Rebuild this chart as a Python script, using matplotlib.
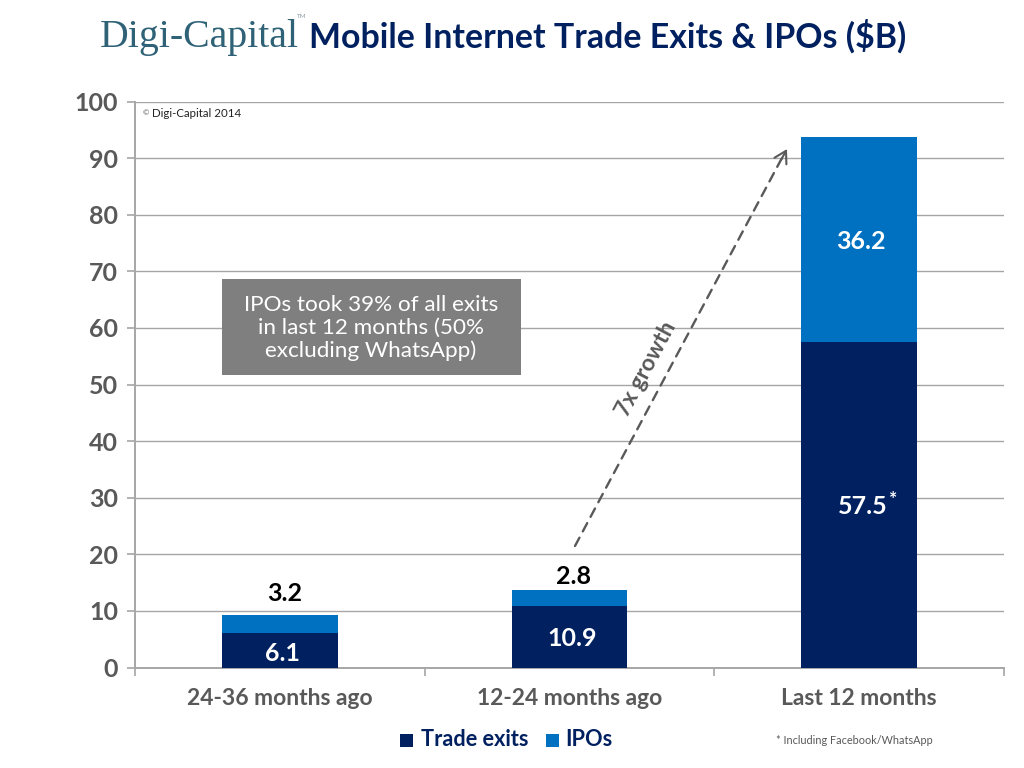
import matplotlib
matplotlib.use("Agg")
import matplotlib.pyplot as plt
from matplotlib.patches import Rectangle

categories = ["24-36 months ago", "12-24 months ago", "Last 12 months"]
trade_exits = [6.1, 10.9, 57.5]
ipos = [3.2, 2.8, 36.2]
yticks = [0, 10, 20, 30, 40, 50, 60, 70, 80, 90, 100]

NAVY = "#002060"
BLUE = "#0070C0"
GREY = "#595959"
W, H = 1024, 768
FONT = "Lato"

plt.rcParams["font.family"] = [FONT, "DejaVu Sans"]
fig = plt.figure(figsize=(W / 100, H / 100), dpi=100)
ax = fig.add_axes([135 / W, (H - 667.5) / H, (1004 - 135) / W, 566 / H])

def px(x, y):
    return (x / W, (H - y) / H)

x = range(len(categories))
ax.bar(x, trade_exits, width=0.4, color=NAVY, zorder=3)
ax.bar(x, ipos, width=0.4, bottom=trade_exits, color=BLUE, zorder=3)
ax.set_xlim(-0.5, 2.5)
ax.set_ylim(0, 100)
ax.set_yticks(yticks)
ax.set_yticklabels([str(t) for t in yticks], fontsize=18, fontweight="bold", color=GREY)
ax.set_xticks([-0.5, 0.5, 1.5, 2.5])
ax.set_xticklabels([])
ax.set_xticks(list(x), minor=True)
ax.set_xticklabels(categories, minor=True, fontsize=16.5, fontweight="bold", color=GREY)
ax.tick_params(axis="x", which="minor", length=0, pad=15)
ax.tick_params(axis="x", which="major", length=6, width=1.2, color="#A6A6A6")
ax.tick_params(axis="y", length=6, width=1.2, color="#A6A6A6", pad=6)
ax.grid(axis="y", color="#A6A6A6", lw=1.0, zorder=0)
ax.set_axisbelow(True)
for s in ("top", "right"):
    ax.spines[s].set_visible(False)
for s in ("left", "bottom"):
    ax.spines[s].set_color("#A6A6A6")
    ax.spines[s].set_linewidth(1.4)

# value labels
VS = 18
ax.text(0.01, trade_exits[0] / 2 - 0.6, "6.1", ha="center", va="center", fontsize=VS, fontweight="bold", color="white", zorder=5)
ax.text(1.01, trade_exits[1] / 2 - 0.3, "10.9", ha="center", va="center", fontsize=VS, fontweight="bold", color="white", zorder=5)
ax.text(2.012, trade_exits[2] / 2 - 0.3, "57.5", ha="center", va="center", fontsize=VS, fontweight="bold", color="white", zorder=5)
tx, ty = px(889, 499)
fig.text(tx, ty, "*", ha="left", va="center", fontsize=14, fontweight="bold", color="white", zorder=5)
ax.text(2.005, trade_exits[2] + ipos[2] / 2 - 0.3, "36.2", ha="center", va="center", fontsize=VS, fontweight="bold", color="white", zorder=5)
ax.text(0.015, 13.0, "3.2", ha="center", va="center", fontsize=VS, fontweight="bold", color="black", zorder=5)
ax.text(1.015, 16.1, "2.8", ha="center", va="center", fontsize=VS, fontweight="bold", color="black", zorder=5)

# title
lx, ly = px(100, 37)
fig.text(lx, ly, "Digi-Capital", fontsize=28.6, family="Liberation Serif", color="#2F6277", ha="left", va="center")
tx, ty = px(297, 17)
fig.text(tx, ty, "TM", fontsize=4.5, color="#8a9aa5", ha="left", va="center")
tx, ty = px(309, 36)
fig.text(tx, ty, "Mobile Internet Trade Exits & IPOs ($B)", fontsize=24.4, fontweight="bold", color=NAVY, ha="left", va="center")

# copyright
tx, ty = px(143, 113)
fig.text(tx, ty, "©", fontsize=5.5, color=GREY, ha="left", va="center")
tx, ty = px(152, 113.5)
fig.text(tx, ty, "Digi-Capital 2014", fontsize=8.3, color="#222222", ha="left", va="center")

# grey box
bx, by = px(222, 375)
fig.patches.append(Rectangle((bx, by), 299 / W, 96 / H, transform=fig.transFigure, facecolor="#7F7F7F", edgecolor="none", zorder=4))
tx, ty = px(371, 328)
fig.text(tx, ty, "IPOs took 39% of all exits\nin last 12 months (50%\nexcluding WhatsApp)", fontsize=16.2, color="white",
         ha="center", va="center", linespacing=1.15, zorder=6)

# growth arrow: dashed shaft plus a solid open head
ax.annotate("", xy=px(783, 156), xytext=px(575, 546), xycoords="figure fraction", textcoords="figure fraction",
            arrowprops=dict(arrowstyle="-", color=GREY, lw=1.7, linestyle=(0, (4, 3)), shrinkA=0, shrinkB=0), zorder=6)
ax.annotate("", xy=px(787, 149), xytext=px(781, 160), xycoords="figure fraction", textcoords="figure fraction",
            arrowprops=dict(arrowstyle="->,head_length=0.6,head_width=0.35", color=GREY, lw=1.5, mutation_scale=14, shrinkA=0, shrinkB=0), zorder=6)
tx, ty = px(646, 369)
fig.text(tx, ty, "7x growth", fontsize=16.5, fontweight="bold", color=GREY, rotation=62, ha="center", va="center", rotation_mode="anchor")

# legend
for (xp, c, lab, xt) in [(400, NAVY, "Trade exits", 421), (546, BLUE, "IPOs", 565)]:
    rx, ry = px(xp, 747)
    fig.patches.append(Rectangle((rx, ry), 13 / W, 13 / H, transform=fig.transFigure, facecolor=c, edgecolor="none"))
    tx, ty = px(xt, 740)
    fig.text(tx, ty, lab, fontsize=15.7, fontweight="bold", color=NAVY, ha="left", va="center")

tx, ty = px(776, 740)
fig.text(tx, ty, "* Including Facebook/WhatsApp", fontsize=7.8, color=GREY, ha="left", va="center")

fig.savefig("out.png", dpi=100)
